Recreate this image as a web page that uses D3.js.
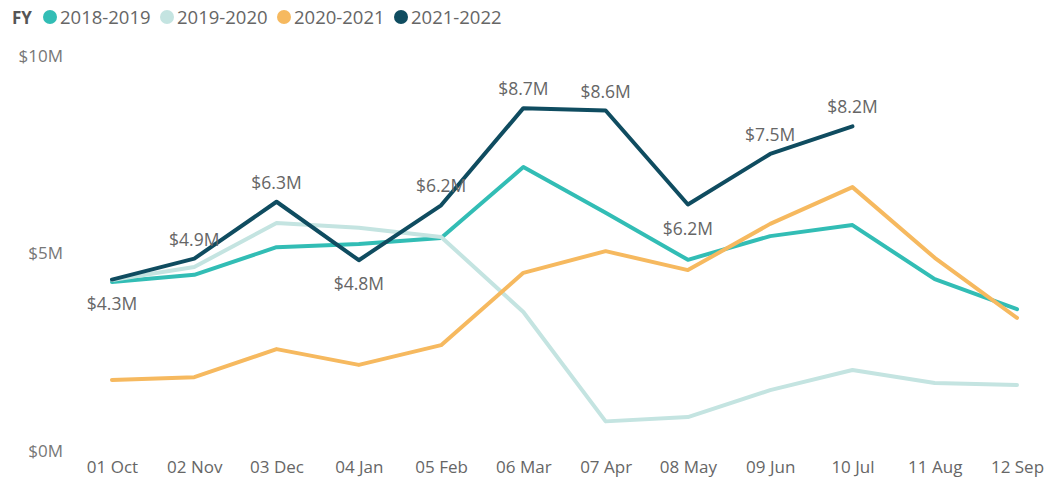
<!DOCTYPE html>
<html>
<head>
<meta charset="utf-8">
<script src="https://cdn.jsdelivr.net/npm/d3@7"></script>
<style>
  body { margin: 0; background: #fff; }
  svg text { font-family: "Open Sans", "Noto Sans", sans-serif; }
</style>
</head>
<body>
<div id="chart"></div>
<script>
var width = 1058, height = 482;

// data
var months = ["01 Oct", "02 Nov", "03 Dec", "04 Jan", "05 Feb", "06 Mar", "07 Apr", "08 May", "09 Jun", "10 Jul", "11 Aug", "12 Sep"];
var seriesNames = ["2018-2019", "2019-2020", "2020-2021", "2021-2022"];
var seriesColors = ["#32bdb5", "#c4e4e1", "#f6b95f", "#0f4c60"];
var fy1819 = [4.28, 4.46, 5.16, 5.24, 5.39, 7.19, 6.03, 4.84, 5.44, 5.72, 4.35, 3.59];
var fy1920 = [4.33, 4.66, 5.77, 5.65, 5.42, 3.52, 0.75, 0.86, 1.54, 2.05, 1.72, 1.67];
var fy2021 = [1.80, 1.87, 2.58, 2.18, 2.68, 4.51, 5.06, 4.58, 5.75, 6.68, 4.89, 3.37];
var fy2122 = [4.34, 4.87, 6.31, 4.83, 6.22, 8.68, 8.62, 6.24, 7.52, 8.22];
var labelBelow = [true, false, false, true, false, false, false, true, false, false];
var yTicks = [0, 5, 10];

var allSeries = [fy1819, fy1920, fy2021, fy2122];

var svg = d3.select("#chart")
  .append("svg")
  .attr("width", width)
  .attr("height", height);

// scales
var xScale = d3.scalePoint()
  .domain(months)
  .range([112, 1017]);

var yScale = d3.scaleLinear()
  .domain([0, 10])
  .range([451, 56]);

// Y axis
var yAxis = d3.axisLeft(yScale)
  .tickValues(yTicks)
  .tickSize(0)
  .tickPadding(0)
  .tickFormat(d => "$" + d + "M");

svg.append("g")
  .attr("transform", "translate(63,0)")
  .attr("class", "y-axis")
  .call(yAxis)
  .call(g => g.select(".domain").remove())
  .selectAll("text")
  .style("font-size", "17px")
  .style("fill", "#777");

// X axis
var xAxis = d3.axisBottom(xScale)
  .tickSize(0)
  .tickPadding(0);

svg.append("g")
  .attr("transform", "translate(0,461)")
  .attr("class", "x-axis")
  .call(xAxis)
  .call(g => g.select(".domain").remove())
  .selectAll("text")
  .attr("dy", "0.71em")
  .style("font-size", "17px")
  .style("fill", "#666");

// lines
var line = d3.line()
  .x((d, i) => xScale(months[i]))
  .y(d => yScale(d));

svg.append("g")
  .attr("class", "lines")
  .selectAll("path")
  .data(allSeries)
  .enter()
  .append("path")
  .attr("d", d => line(d))
  .attr("fill", "none")
  .attr("stroke", (d, i) => seriesColors[i])
  .attr("stroke-width", 4)
  .attr("stroke-linejoin", "round")
  .attr("stroke-linecap", "round");

// data labels for 2021-2022
svg.append("g")
  .attr("class", "labels")
  .selectAll("text")
  .data(fy2122)
  .enter()
  .append("text")
  .attr("x", (d, i) => xScale(months[i]))
  .attr("y", (d, i) => labelBelow[i] ? yScale(d) + 30 : yScale(d) - 13)
  .attr("text-anchor", "middle")
  .style("font-size", "17.5px")
  .style("fill", "#666")
  .text(d => "$" + d.toFixed(1) + "M");

// legend
var legend = svg.append("g").attr("class", "legend");

legend.append("text")
  .attr("x", 12)
  .attr("y", 24)
  .style("font-size", "17px")
  .style("font-weight", "bold")
  .style("fill", "#555")
  .text("FY");

var legendX = [50, 167, 284, 401];
seriesNames.forEach(function(name, i) {
  legend.append("circle")
    .attr("cx", legendX[i])
    .attr("cy", 17)
    .attr("r", 7)
    .attr("fill", seriesColors[i]);
  legend.append("text")
    .attr("x", legendX[i] + 10)
    .attr("y", 24)
    .style("font-size", "18.5px")
    .style("fill", "#666")
    .text(name);
});
</script>
</body>
</html>
